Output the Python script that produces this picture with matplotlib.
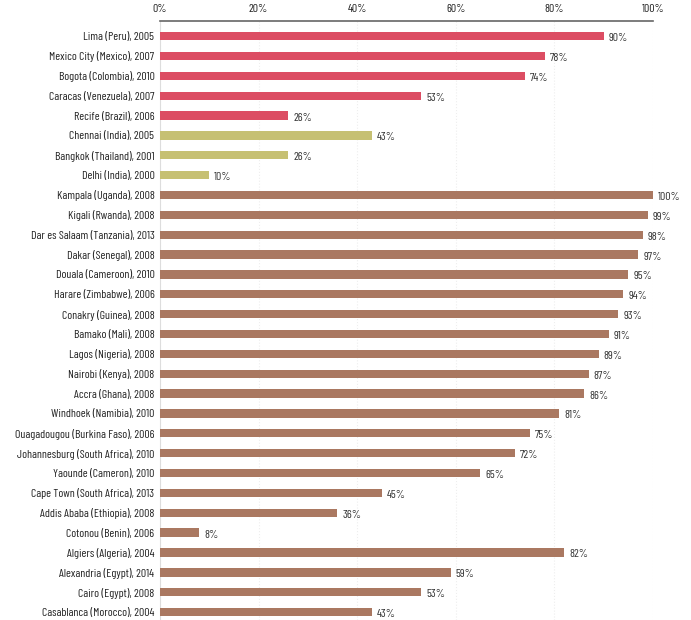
import numpy as np
import matplotlib.pyplot as plt

cities = ["Lima (Peru), 2005", "Mexico City (Mexico), 2007", "Bogota (Colombia), 2010",
          "Caracas (Venezuela), 2007", "Recife (Brazil), 2006", "Chennai (India), 2005",
          "Bangkok (Thailand), 2001", "Delhi (India), 2000", "Kampala (Uganda), 2008",
          "Kigali (Rwanda), 2008", "Dar es Salaam (Tanzania), 2013", "Dakar (Senegal), 2008",
          "Douala (Cameroon), 2010", "Harare (Zimbabwe), 2006", "Conakry (Guinea), 2008",
          "Bamako (Mali), 2008", "Lagos (Nigeria), 2008", "Nairobi (Kenya), 2008",
          "Accra (Ghana), 2008", "Windhoek (Namibia), 2010", "Ouagadougou (Burkina Faso), 2006",
          "Johannesburg (South Africa), 2010", "Yaounde (Cameron), 2010",
          "Cape Town (South Africa), 2013", "Addis Ababa (Ethiopia), 2008",
          "Cotonou (Benin), 2006", "Algiers (Algeria), 2004", "Alexandria (Egypt), 2014",
          "Cairo (Egypt), 2008", "Casablanca (Morocco), 2004"]
values = [90, 78, 74, 53, 26, 43, 26, 10, 100, 99, 98, 97, 95, 94, 93, 91, 89, 87, 86,
          81, 75, 72, 65, 45, 36, 8, 82, 59, 53, 43]
regions = ["latam"] * 5 + ["asia"] * 3 + ["africa"] * 22
colors = {"latam": "#dc4d63", "asia": "#c6c073", "africa": "#aa7861"}

plt.rcParams['font.family'] = ['Barlow Condensed', 'DejaVu Sans']

fig = plt.figure(figsize=(6.91, 6.20), dpi=100)
ax = fig.add_axes([160/691, 0, (653-160)/691, (620-21)/620])

y = np.arange(len(cities))
ax.barh(y, values, height=0.42, color=[colors[r] for r in regions], zorder=3)
for yi, v in zip(y, values):
    ax.text(v + 1.0, yi + 0.1, f"{v}%", va="center", ha="left", fontsize=8.5, color="#333333")

ax.set_ylim(29.4, -0.76)
ax.set_xlim(0, 100)
ax.set_yticks(y)
ax.set_yticklabels(cities, fontsize=8.5, color="#222222")
ax.xaxis.tick_top()
ax.set_xticks(range(0, 101, 20))
ax.set_xticklabels([f"{t}%" for t in range(0, 101, 20)], fontsize=8.5, color="#222222")
ax.tick_params(axis="both", length=0, pad=4)
ax.tick_params(axis="x", pad=5)
for s in ["right", "bottom"]:
    ax.spines[s].set_visible(False)
ax.spines["top"].set_color("#666666")
ax.spines["top"].set_linewidth(1.2)
ax.spines["left"].set_color("#dddddd")
ax.spines["left"].set_linewidth(0.8)
ax.grid(axis="x", color="#eeeeee", linestyle=":", linewidth=0.8, zorder=0)

fig.savefig("out.png", dpi=100)
